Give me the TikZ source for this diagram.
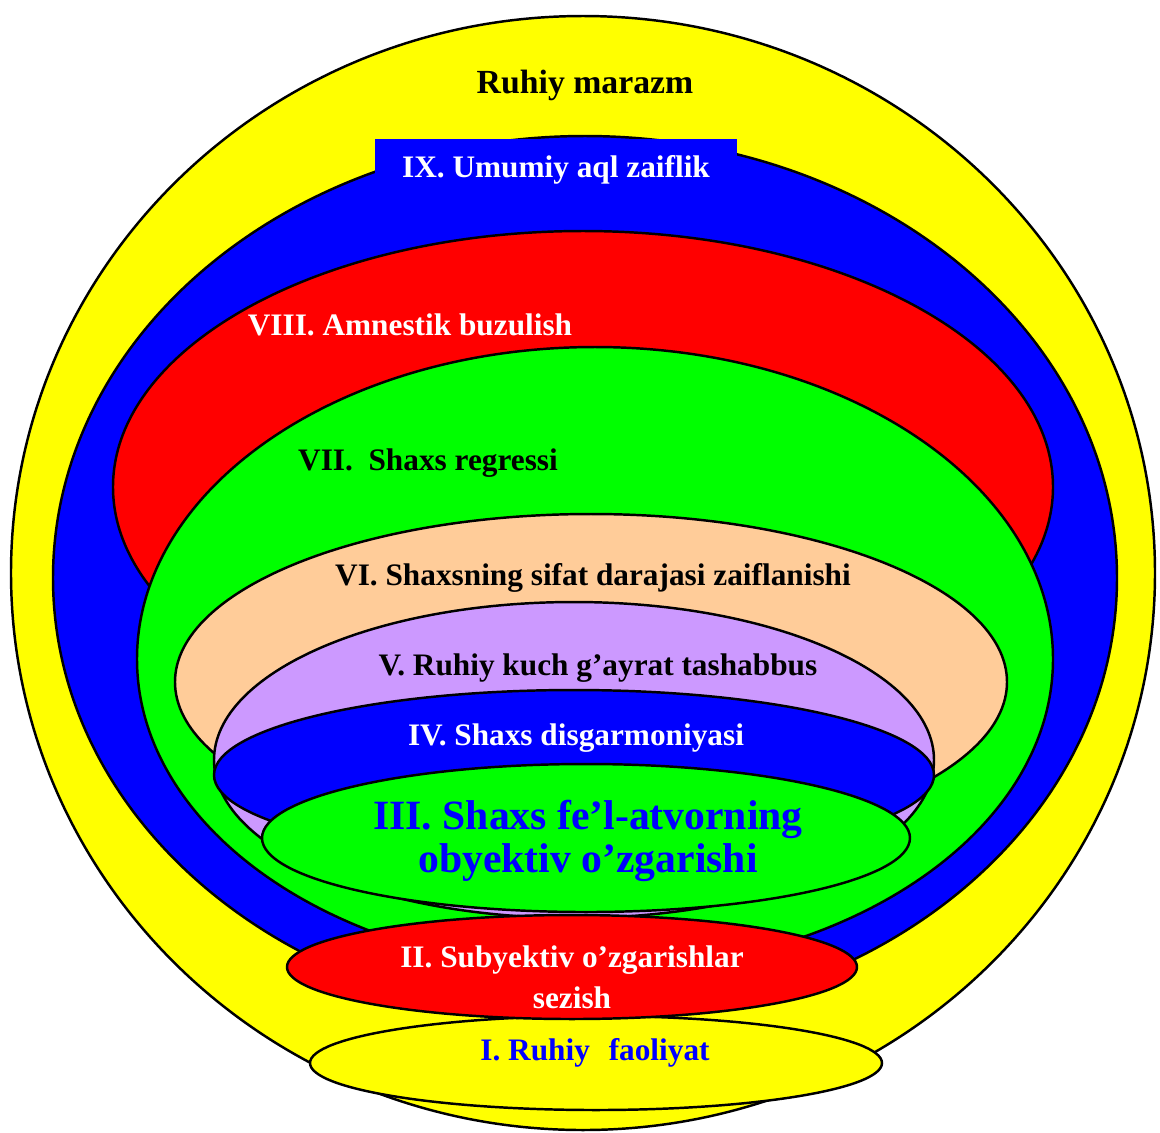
\documentclass[tikz,border=0pt]{standalone}
\usepackage{fontspec}
\setmainfont{Liberation Serif}
\usepackage{tikz}

\definecolor{lyellow}{RGB}{255,255,0}
\definecolor{lblue}{RGB}{0,0,255}
\definecolor{lred}{RGB}{255,0,0}
\definecolor{lgreen}{RGB}{0,255,0}
\definecolor{peach}{RGB}{255,204,153}
\definecolor{lavender}{RGB}{204,153,255}

\begin{document}
\begin{tikzpicture}[x={(0.01cm,0)},y={(0,-0.01cm)},
 layer/.style={draw=black,line width=0.7pt},
 lbl/.style={inner sep=0pt,align=center,font=\bfseries\fontsize{8.9}{11.7}\selectfont}]
\useasboundingbox (0,0) rectangle (1160,1132);
% nested layers, from the outer ring inwards
\filldraw[layer,fill=lyellow] (583,573) ellipse [x radius=572,y radius=557];
\filldraw[layer,fill=lblue] (585,578) ellipse [x radius=532,y radius=442];
\node[lbl,fill=lblue,text=white,minimum width=3.61cm,minimum height=0.62cm,anchor=north] (ix) at (556,138) {IX. Umumiy aql zaiflik};
\filldraw[layer,fill=lred] (583,487) ellipse [x radius=470,y radius=256];
\filldraw[layer,fill=lgreen] (595,659) ellipse [x radius=458,y radius=312];
\filldraw[layer,fill=peach] (591,682) ellipse [x radius=416,y radius=168];
\filldraw[layer,fill=lavender] (574,760) ellipse [x radius=360,y radius=158];
\filldraw[layer,fill=lblue] (574,775) ellipse [x radius=360,y radius=85];
\filldraw[layer,fill=lgreen] (586,838) ellipse [x radius=324,y radius=74];
\filldraw[layer,fill=lyellow] (596,1063) ellipse [x radius=286,y radius=47];
\filldraw[layer,fill=lred] (572,967) ellipse [x radius=285,y radius=52];
% labels
\node[lbl,font=\bfseries\fontsize{9.6}{11}\selectfont] (marazm) at (585,85) {Ruhiy marazm};
\node[lbl,text=white] (viii) at (410,325) {VIII. Amnestik buzulish};
\node[lbl] (vii) at (428,463) {VII.\ \ Shaxs regressi};
\node[lbl] (vi) at (593,578) {VI. Shaxsning sifat darajasi zaiflanishi};
\node[lbl] (v) at (598,668) {V. Ruhiy kuch g’ayrat tashabbus};
\node[lbl,text=white] (iv) at (576,738) {IV. Shaxs disgarmoniyasi};
\node[lbl,text=lblue,font=\bfseries\fontsize{11.85}{12}\selectfont] (iii) at (588,841) {III. Shaxs fe’l-atvorning\\obyektiv o’zgarishi};
\node[lbl,text=white] (ii) at (572,977) {II. Subyektiv o’zgarishlar\\sezish};
\node[lbl,text=lblue] (i) at (595,1053) {I. Ruhiy\hspace{0.6em}faoliyat};
\end{tikzpicture}
\end{document}
